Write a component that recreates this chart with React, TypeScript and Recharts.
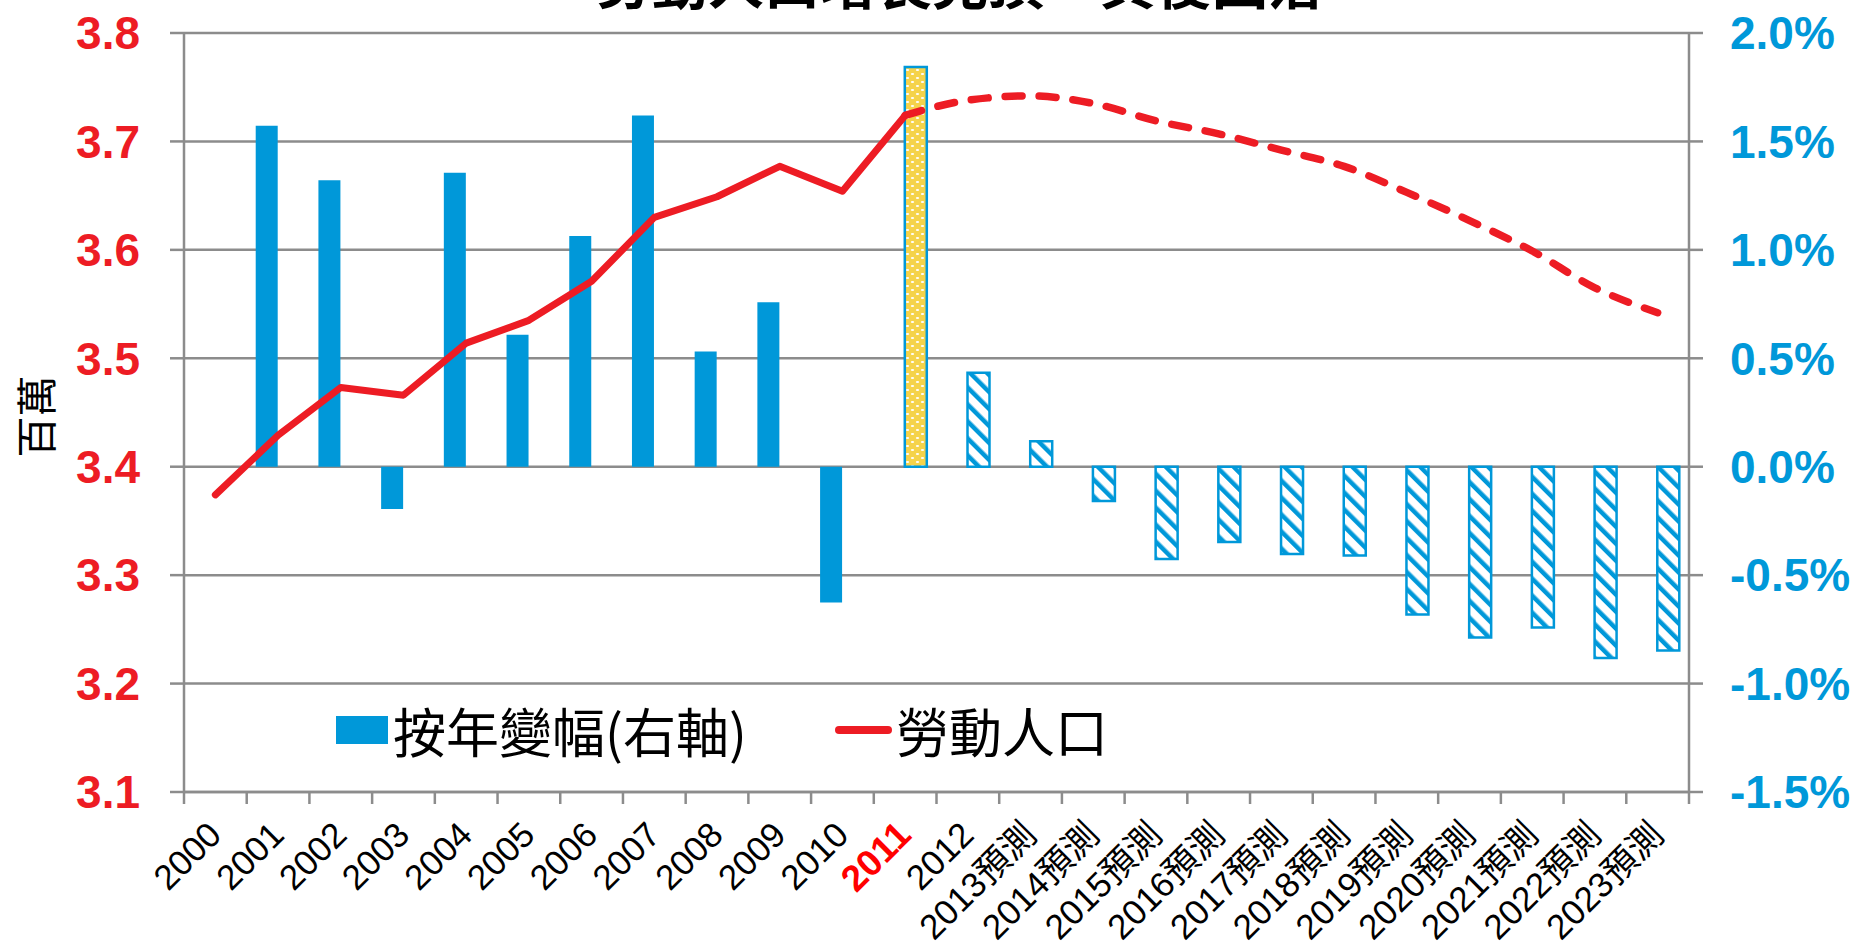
import React from 'react';
import { ComposedChart, Bar, Line, XAxis, YAxis, CartesianGrid, Cell, Legend, Label } from 'recharts';

const years = [
  '2000', '2001', '2002', '2003', '2004', '2005', '2006', '2007', '2008', '2009', '2010', '2011', '2012',
  '2013預測', '2014預測', '2015預測', '2016預測', '2017預測', '2018預測', '2019預測', '2020預測',
  '2021預測', '2022預測', '2023預測',
];

// 按年變幅 (%) — actual years
const changeActual = [
  null, 1.572, 1.321, -0.195, 1.356, 0.609, 1.064, 1.619, 0.531, 0.758, -0.626,
  null, null, null, null, null, null, null, null, null, null, null, null, null,
];

// 按年變幅 (%) — 2011 highlight and forecast years
const changeForecast = [
  null, null, null, null, null, null, null, null, null, null, null,
  1.843, 0.433, 0.117, -0.158, -0.425, -0.347, -0.402, -0.409, -0.682, -0.788, -0.741, -0.882, -0.847,
];

// 勞動人口 (百萬) — actual
const laborActual = [
  3.374, 3.429, 3.473, 3.466, 3.514, 3.535, 3.571, 3.630, 3.649, 3.677, 3.654, 3.724,
  null, null, null, null, null, null, null, null, null, null, null, null,
];

// 勞動人口 (百萬) — forecast
const laborForecast = [
  null, null, null, null, null, null, null, null, null, null, null,
  3.724, 3.738, 3.742, 3.735, 3.719, 3.707, 3.692, 3.677, 3.653, 3.627, 3.599, 3.565, 3.542,
];

const leftTicks = [3.1, 3.2, 3.3, 3.4, 3.5, 3.6, 3.7, 3.8];
const rightTicks = [-1.5, -1.0, -0.5, 0.0, 0.5, 1.0, 1.5, 2.0];

const highlightYear = '2011';
const seriesNames = { change: '按年變幅(右軸)', labor: '勞動人口' };
const yUnit = '百萬';
const titleText = '勞動人口增長見頂　其後回落';

const data = years.map((year, i) => ({
  year,
  changeActual: changeActual[i],
  changeForecast: changeForecast[i],
  laborActual: laborActual[i],
  laborForecast: laborForecast[i],
}));

const W = 1858;
const H = 950;
const LEFT_W = 184;
const RIGHT_W = 169;
const BAND = (W - LEFT_W - RIGHT_W) / years.length;

const BLUE = '#0098D9';
const RED = '#ED1C24';
const GRID = '#8C8C8C';
const LATIN = '"Liberation Sans", Arial, sans-serif';
const CJK = '"Noto Sans CJK TC", "Noto Sans CJK SC", sans-serif';

const XTick = (props: any) => {
  const { x, y, payload } = props;
  const label: string = payload.value;
  const isHi = label === highlightYear;
  const isLast = label === years[years.length - 1];
  const tx = x + 8;
  const ty = y + 33;
  return (
    <g>
      <line x1={x - BAND / 2} x2={x - BAND / 2} y1={y - 12} y2={y} stroke={GRID} strokeWidth={2.5} />
      {isLast && <line x1={x + BAND / 2} x2={x + BAND / 2} y1={y - 12} y2={y} stroke={GRID} strokeWidth={2.5} />}
      <text
        x={tx}
        y={ty}
        transform={`rotate(-45 ${tx} ${ty})`}
        textAnchor="end"
        fontSize={isHi ? 37 : 35}
        fontWeight={isHi ? 700 : 400}
        fill={isHi ? '#FF0000' : '#000'}
        fontFamily={`"Liberation Sans", ${CJK}`}
      >
        {label}
      </text>
    </g>
  );
};

const UnitLabel = (props: any) => {
  const vb = props.viewBox || { x: 0, y: 0, width: 0, height: 0 };
  const cx = vb.x + 34;
  const cy = vb.y + vb.height / 2 + 4;
  return (
    <text
      x={cx}
      y={cy}
      transform={`rotate(-90 ${cx} ${cy})`}
      textAnchor="middle"
      dominantBaseline="central"
      fontSize={41}
      fill="#000"
      fontFamily={CJK}
    >
      {yUnit}
    </text>
  );
};

const LegendContent = () => (
  <div style={{ position: 'relative', width: 800, height: 64, fontFamily: CJK, fontSize: 53, lineHeight: '64px', color: '#000' }}>
    <div style={{ position: 'absolute', left: 0, top: 18, width: 52, height: 28, background: BLUE }} />
    <div style={{ position: 'absolute', left: 57, top: 0, whiteSpace: 'nowrap' }}>{seriesNames.change}</div>
    <div style={{ position: 'absolute', left: 499, top: 28, width: 57, height: 8, borderRadius: 4, background: RED }} />
    <div style={{ position: 'absolute', left: 560, top: 0, whiteSpace: 'nowrap' }}>{seriesNames.labor}</div>
  </div>
);

export default function App() {
  return (
    <div style={{ position: 'absolute', left: 0, top: 0, width: W, height: H, background: '#fff', overflow: 'hidden' }}>
      <div
        style={{
          position: 'absolute', left: 560, top: -50, width: 800, textAlign: 'center',
          fontFamily: CJK, fontSize: 56, lineHeight: '60px', fontWeight: 700, color: '#000', whiteSpace: 'nowrap',
        }}
      >
        {titleText}
      </div>
      <ComposedChart width={W} height={H} data={data} margin={{ top: 33, right: 0, left: 0, bottom: 0 }} barGap={0}>
        <defs>
          <pattern id="hatch" patternUnits="userSpaceOnUse" width="12" height="12" patternTransform="rotate(-45)">
            <rect width="12" height="12" fill="#fff" />
            <rect x="0" y="0" width="4.5" height="12" fill={BLUE} />
          </pattern>
          <pattern id="dots" patternUnits="userSpaceOnUse" width="10" height="8">
            <rect width="10" height="8" fill="#F5D34A" />
            <ellipse cx="2.5" cy="2" rx="1.7" ry="1.1" fill="#fff" />
            <ellipse cx="7.5" cy="6" rx="1.7" ry="1.1" fill="#fff" />
          </pattern>
        </defs>
        <CartesianGrid yAxisId="left" vertical={false} stroke={GRID} strokeWidth={2.5} />
        <XAxis
          dataKey="year"
          interval={0}
          height={158}
          tickLine={false}
          tickSize={12}
          tickMargin={0}
          axisLine={{ stroke: GRID, strokeWidth: 2.5 }}
          tick={(p: any) => <XTick {...p} />}
        />
        <YAxis
          yAxisId="left"
          orientation="left"
          width={LEFT_W}
          domain={[3.1, 3.8]}
          ticks={leftTicks}
          interval={0}
          tickFormatter={(v: number) => v.toFixed(1)}
          tickSize={14}
          tickMargin={30}
          tickLine={{ stroke: GRID, strokeWidth: 2.5 }}
          axisLine={{ stroke: GRID, strokeWidth: 2.5 }}
          tick={{ fill: RED, fontSize: 46, fontWeight: 700, fontFamily: LATIN }}
        >
          <Label content={(p: any) => <UnitLabel {...p} />} />
        </YAxis>
        <YAxis
          yAxisId="right"
          orientation="right"
          width={RIGHT_W}
          domain={[-1.5, 2.0]}
          ticks={rightTicks}
          interval={0}
          tickFormatter={(v: number) => `${v.toFixed(1)}%`}
          tickSize={14}
          tickMargin={27}
          tickLine={{ stroke: GRID, strokeWidth: 2.5 }}
          axisLine={{ stroke: GRID, strokeWidth: 2.5 }}
          tick={{ fill: BLUE, fontSize: 46, fontWeight: 700, fontFamily: LATIN }}
        />
        <Bar yAxisId="right" dataKey="changeActual" name={seriesNames.change} barSize={22} fill={BLUE} isAnimationActive={false} />
        <Bar yAxisId="right" dataKey="changeForecast" name="forecast" barSize={22} isAnimationActive={false} stroke={BLUE} strokeWidth={2.5}>
          {data.map((d) => (
            <Cell key={d.year} fill={d.year === highlightYear ? 'url(#dots)' : 'url(#hatch)'} stroke={BLUE} strokeWidth={2.5} />
          ))}
        </Bar>
        <Line
          yAxisId="left"
          type="linear"
          dataKey="laborActual"
          name={seriesNames.labor}
          stroke={RED}
          strokeWidth={7}
          strokeLinecap="round"
          strokeLinejoin="round"
          dot={false}
          activeDot={false}
          isAnimationActive={false}
        />
        <Line
          yAxisId="left"
          type="monotone"
          dataKey="laborForecast"
          name="laborForecast"
          stroke={RED}
          strokeWidth={7.5}
          strokeDasharray="17 17"
          strokeLinecap="round"
          dot={false}
          activeDot={false}
          isAnimationActive={false}
        />
        <Legend
          layout="horizontal"
          verticalAlign="middle"
          align="center"
          wrapperStyle={{ position: 'absolute', left: 336, top: 698, width: 800, height: 64 }}
          content={() => <LegendContent />}
        />
      </ComposedChart>
    </div>
  );
}
